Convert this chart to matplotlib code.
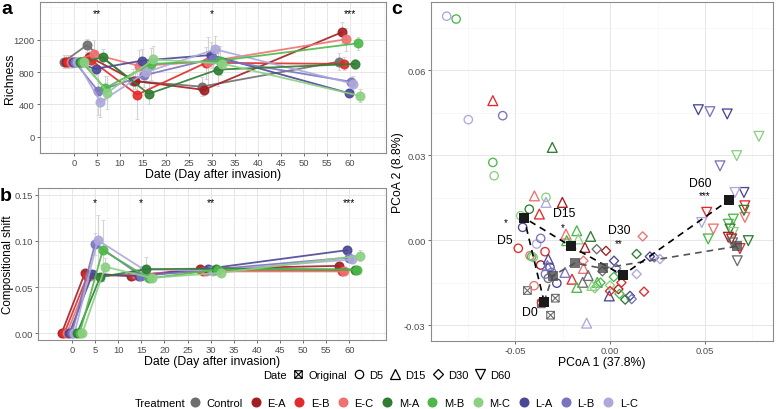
import numpy as np
import matplotlib.pyplot as plt
from matplotlib.lines import Line2D
from matplotlib.path import Path

plt.rcParams['font.family'] = ['Liberation Sans', 'DejaVu Sans']
plt.rcParams['axes.unicode_minus'] = False

W, H = 777, 410

# Treatments in dodge (alphabetical) order and in legend order #
treatments = ['Control', 'E-A', 'E-B', 'E-C', 'L-A', 'L-B', 'L-C', 'M-A', 'M-B', 'M-C']
legend_order = ['Control', 'E-A', 'E-B', 'E-C', 'M-A', 'M-B', 'M-C', 'L-A', 'L-B', 'L-C']
colors = {'Control': '#6E6E6E', 'E-A': '#A31E22', 'E-B': '#E32A2A', 'E-C': '#EE7272',
          'M-A': '#2E7D32', 'M-B': '#4CB849', 'M-C': '#8BD083',
          'L-A': '#4B4794', 'L-B': '#7A74BE', 'L-C': '#ADA9DA'}
days = [0, 5, 15, 30, 60]

# Panel a: richness (mean, sd) #
richness = {'Control': [925, 1130, 690, 620, 930],
            'E-A': [925, 990, 690, 580, 1290],
            'E-B': [925, 945, 520, 915, 900],
            'E-C': [925, 1020, 875, 930, 1205],
            'L-A': [920, 840, 940, 1010, 540],
            'L-B': [920, 565, 760, 965, 680],
            'L-C': [920, 430, 800, 1080, 655],
            'M-A': [920, 980, 530, 830, 900],
            'M-B': [920, 600, 900, 940, 1155],
            'M-C': [920, 545, 955, 905, 505]}
richness_sd = {'Control': [80, 80, 150, 120, 100],
               'E-A': [80, 150, 100, 60, 130],
               'E-B': [80, 60, 300, 200, 80],
               'E-C': [80, 170, 200, 300, 140],
               'L-A': [60, 80, 150, 160, 50],
               'L-B': [60, 300, 150, 150, 60],
               'L-C': [60, 180, 130, 160, 90],
               'M-A': [60, 100, 130, 200, 60],
               'M-B': [60, 150, 200, 180, 80],
               'M-C': [60, 200, 170, 80, 80]}
stars_a = ['', '**', '', '*', '***']

# Panel b: compositional shift (mean, sd) #
shift_trts = ['E-A', 'E-B', 'E-C', 'L-A', 'L-B', 'L-C', 'M-A', 'M-B', 'M-C']
shift = {'E-A': [0, 0.065, 0.062, 0.070, 0.073],
         'E-B': [0, 0.062, 0.063, 0.068, 0.068],
         'E-C': [0, 0.062, 0.064, 0.067, 0.067],
         'L-A': [0, 0.064, 0.062, 0.070, 0.090],
         'L-B': [0, 0.097, 0.062, 0.069, 0.082],
         'L-C': [0, 0.101, 0.069, 0.068, 0.080],
         'M-A': [0, 0.061, 0.0695, 0.070, 0.069],
         'M-B': [0, 0.090, 0.0595, 0.069, 0.069],
         'M-C': [0, 0.072, 0.060, 0.0655, 0.084]}
shift_sd = {'E-A': [0, 0.003, 0.003, 0.003, 0.003],
            'E-B': [0, 0.003, 0.003, 0.003, 0.003],
            'E-C': [0, 0.003, 0.004, 0.003, 0.003],
            'L-A': [0, 0.003, 0.003, 0.003, 0.003],
            'L-B': [0, 0.012, 0.004, 0.003, 0.004],
            'L-C': [0, 0.027, 0.004, 0.003, 0.004],
            'M-A': [0, 0.004, 0.013, 0.003, 0.003],
            'M-B': [0, 0.033, 0.004, 0.003, 0.003],
            'M-C': [0, 0.010, 0.004, 0.003, 0.006]}
stars_b = ['', '*', '*', '**', '***']

# Panel c: PCoA scores #
orig_x = [-0.0435, -0.0288, -0.0313, -0.0362]
orig_y = [-0.0178, -0.0205, -0.0265, -0.0225]

d5_x = [-0.0860, -0.0810, -0.0746, -0.0565, -0.0617, -0.0610, -0.0425, -0.0337, -0.0470, -0.0460,
        -0.0483, -0.0421, -0.0342, -0.0386, -0.0365, -0.0412, -0.0404, -0.0365, -0.0316, -0.0307,
        -0.0280, -0.0400, -0.0325, -0.0360, -0.0340]
d5_y = [0.0790, 0.0780, 0.0425, 0.0439, 0.0274, 0.0227, 0.0109, 0.0151, 0.0086, 0.0045,
        -0.0029, -0.0055, -0.0041, -0.0014, 0.0006, -0.0058, -0.0061, -0.0088, -0.0096, -0.0114,
        -0.0152, -0.0161, -0.0135, -0.0220, -0.0120]
d5_trt = ['L-C', 'M-B', 'L-C', 'L-B', 'M-B', 'M-C', 'M-A', 'M-C', 'M-C', 'L-A',
          'E-B', 'E-C', 'E-B', 'L-C', 'L-B', 'M-B', 'M-C', 'E-A', 'L-A', 'L-B',
          'L-A', 'E-C', 'Control', 'E-B', 'L-B']

d15_x = [-0.0617, -0.0304, -0.0398, -0.0337, -0.0251, -0.0372, -0.0232, -0.0175, -0.0167, -0.0102,
         -0.0228, -0.0205, -0.0132, -0.0140, -0.0200, -0.0144, -0.0175, -0.0067, -0.0095, -0.0325,
         -0.0237, -0.0004, -0.0123, -0.0330, -0.0115]
d15_y = [0.0492, 0.0327, 0.0156, 0.0133, 0.0133, 0.0092, 0.0021, 0.0033, 0.0004, 0.0013,
         -0.0002, -0.0015, -0.0026, -0.0100, -0.0138, -0.0149, -0.0167, -0.0149, -0.0160, -0.0067,
         -0.0114, -0.0197, -0.0293, -0.0090, -0.0125]
d15_trt = ['E-B', 'M-A', 'E-C', 'L-C', 'E-A', 'E-B', 'E-C', 'M-B', 'M-C', 'M-A',
           'M-B', 'M-C', 'E-A', 'E-C', 'E-B', 'Control', 'M-B', 'M-B', 'M-C', 'L-A',
           'L-B', 'L-A', 'L-C', 'L-B', 'Control']

d30_x = [0.0172, -0.0070, -0.0021, 0.0140, -0.0140, 0.0021, 0.0032, 0.0140, 0.0179, 0.0105,
         0.0114, 0.0044, 0.0210, 0.0233, 0.0263, -0.0050, 0.0000, 0.0050, 0.0080, -0.0080,
         0.0020, 0.0060, -0.0040, 0.0000]
d30_y = [0.0013, -0.0032, -0.0038, -0.0049, -0.0073, -0.0073, -0.0100, -0.0120, -0.0182, -0.0197,
         -0.0208, -0.0173, -0.0058, -0.0061, -0.0067, -0.0150, -0.0160, -0.0190, -0.0210, -0.0170,
         -0.0130, -0.0150, -0.0110, -0.0180]
d30_trt = ['E-C', 'Control', 'E-A', 'M-A', 'E-C', 'L-A', 'L-B', 'L-C', 'E-B', 'L-A',
           'L-B', 'E-A', 'L-A', 'L-B', 'L-C', 'M-B', 'M-C', 'M-B', 'M-A', 'M-C',
           'M-B', 'E-B', 'Control', 'E-B']

d60_x = [0.0465, 0.0526, 0.0617, 0.0784, 0.0667, 0.0579, 0.0705, 0.0658, 0.0509, 0.0483,
         0.0544, 0.0517, 0.0710, 0.0710, 0.0705, 0.0649, 0.0623, 0.0632, 0.0649, 0.0623,
         0.0640, 0.0728, 0.0684, 0.0670, 0.0645]
d60_y = [0.0460, 0.0453, 0.0445, 0.0366, 0.0298, 0.0262, 0.0168, 0.0168, 0.0098, 0.0062,
         0.0039, 0.0004, 0.0121, 0.0080, 0.0105, 0.0074, 0.0056, 0.0039, 0.0027, 0.0010,
         0.0004, -0.0002, -0.0030, -0.0073, -0.0010]
d60_trt = ['L-A', 'L-B', 'L-A', 'M-C', 'M-C', 'L-B', 'L-A', 'L-C', 'E-B', 'L-C',
           'E-C', 'M-B', 'E-B', 'E-C', 'M-A', 'M-B', 'M-B', 'M-A', 'M-C', 'E-A',
           'E-A', 'M-A', 'E-B', 'Control', 'Control']

# Centroids: invaded (black) and control (grey) #
cent_labels = ['D0', 'D5', 'D15', 'D30', 'D60']
cent_stars = ['', '*', '*', '**', '***']
cent_x = [-0.0347, -0.0453, -0.0205, 0.0067, 0.0628]
cent_y = [-0.0218, 0.0079, -0.0022, -0.0124, 0.0142]
ctrl_x = [-0.0302, -0.0184, -0.0039, 0.0667]
ctrl_y = [-0.0126, -0.0081, -0.0100, -0.0022]

# Square-cross marker (ggplot shape 7) #
sq_cross = Path([(-1, -1), (1, -1), (1, 1), (-1, 1), (-1, -1), (-1, -1), (1, 1), (-1, 1), (1, -1)],
                [Path.MOVETO, Path.LINETO, Path.LINETO, Path.LINETO, Path.CLOSEPOLY,
                 Path.MOVETO, Path.LINETO, Path.MOVETO, Path.LINETO])


def px_axes(l, t, r, b):
    return fig.add_axes([l / W, 1 - b / H, (r - l) / W, (b - t) / H])


def style(ax):
    for s in ax.spines.values():
        s.set_color('#8C8C8C')
        s.set_linewidth(0.8)
    ax.grid(which='major', color='#E6E6E6', lw=0.7)
    ax.grid(which='minor', color='#F3F3F3', lw=0.4)
    ax.set_axisbelow(True)
    ax.tick_params(which='major', length=2.5, width=0.5, color='#333333',
                   labelsize=6.8, labelcolor='#4D4D4D', pad=1.2)
    ax.tick_params(which='minor', length=0)


fig = plt.figure(figsize=(W / 100, H / 100), dpi=100)

# ---------------- Panel a ---------------- #
ax_a = px_axes(40, 3, 386, 154)
n = len(treatments)
offs = (np.arange(n) - (n - 1) / 2) * 5 / n
for i, t in enumerate(treatments):
    xx = np.array(days) + offs[i]
    ax_a.errorbar(xx, richness[t], yerr=richness_sd[t], fmt='none', ecolor='#D3D3D3',
                  elinewidth=0.8, capsize=1.2, capthick=0.6, zorder=1)
    ax_a.plot(xx, richness[t], '-o', color=colors[t], lw=1.3, ms=6.2, alpha=0.9, zorder=2)
for d, s in zip(days, stars_a):
    ax_a.text(d, 1528, s, ha='center', va='center', fontsize=7.5)
ax_a.set_xlim(-7.4, 67.9)
ax_a.set_ylim(-61, 1665)
ax_a.set_xticks(np.arange(0, 61, 5))
ax_a.set_xticks(np.arange(-5, 67.6, 2.5), minor=True)
ax_a.set_yticks([0, 400, 800, 1200])
ax_a.set_yticks(np.arange(-200, 1700, 200), minor=True)
style(ax_a)
ax_a.set_xlabel('Date (Day after invasion)', fontsize=8.8, labelpad=0.5)
ax_a.set_ylabel('Richness', fontsize=8.8)
ax_a.yaxis.set_label_coords((16 - 40) / 346, 0.5)

# ---------------- Panel b ---------------- #
ax_b = px_axes(37.7, 189, 386, 340.7)
n = len(shift_trts)
offs = (np.arange(n) - (n - 1) / 2) * 5 / n
for i, t in enumerate(shift_trts):
    xx = np.array(days) + offs[i]
    ax_b.errorbar(xx, shift[t], yerr=shift_sd[t], fmt='none', ecolor='#D3D3D3',
                  elinewidth=0.8, capsize=1.2, capthick=0.6, zorder=1)
    ax_b.plot(xx, shift[t], '-o', color=colors[t], lw=1.3, ms=6.2, alpha=0.9, zorder=2)
for d, s in zip(days, stars_b):
    ax_b.text(d, 0.1424, s, ha='center', va='center', fontsize=7.5)
ax_b.set_xlim(-7.4, 67.9)
ax_b.set_ylim(-0.0069, 0.1573)
ax_b.set_xticks(np.arange(0, 61, 5))
ax_b.set_xticks(np.arange(-5, 67.6, 2.5), minor=True)
ax_b.set_yticks([0, 0.05, 0.10, 0.15])
ax_b.set_yticklabels(['0.00', '0.05', '0.10', '0.15'])
ax_b.set_yticks([0.025, 0.075, 0.125], minor=True)
style(ax_b)
ax_b.set_xlabel('Date (Day after invasion)', fontsize=8.8, labelpad=0.5)
ax_b.set_ylabel('Compositional shift', fontsize=8.4)
ax_b.yaxis.set_label_coords((13.6 - 37.7) / 348.3, 0.5)

# ---------------- Panel c ---------------- #
ax_c = px_axes(430.7, 3.3, 773, 341.7)
ax_c.scatter(orig_x, orig_y, marker=sq_cross, s=30, facecolors='none',
             edgecolors=colors['Control'], linewidths=0.8, zorder=2)
groups = [(d5_x, d5_y, d5_trt, 'o', 36), (d15_x, d15_y, d15_trt, '^', 50),
          (d30_x, d30_y, d30_trt, 'D', 22), (d60_x, d60_y, d60_trt, 'v', 50)]
for gx, gy, gt, mk, sz in groups:
    ax_c.scatter(gx, gy, marker=mk, s=sz, facecolors='none',
                 edgecolors=[colors[t] for t in gt], linewidths=0.95, zorder=2)
ax_c.plot([cent_x[0]] + ctrl_x, [cent_y[0]] + ctrl_y, ls=(0, (4, 3)), color='#555555',
          lw=1.2, zorder=3)
ax_c.plot(cent_x, cent_y, ls=(0, (4, 3)), color='black', lw=1.2, zorder=3)
ax_c.scatter(ctrl_x, ctrl_y, marker='s', s=55, color='#4D4D4D', alpha=0.8, lw=0, zorder=4)
ax_c.scatter(cent_x, cent_y, marker='s', s=55, color='#1A1A1A', lw=0, zorder=5)
lab_x = [-0.0421, -0.0553, -0.0241, 0.0047, 0.0477]
lab_y = [-0.0254, 0.0002, 0.0094, 0.0036, 0.0202]
star_x = [0, -0.0547, -0.0249, 0.0047, 0.0500]
star_y = [0, 0.0064, 0.0046, -0.0010, 0.0160]
for i in range(5):
    ax_c.text(lab_x[i], lab_y[i], cent_labels[i], ha='center', va='center', fontsize=8.8, zorder=6)
    if cent_stars[i]:
        ax_c.text(star_x[i], star_y[i], cent_stars[i], ha='center', va='center', fontsize=7, zorder=6)
ax_c.set_xlim(-0.0944, 0.0858)
ax_c.set_ylim(-0.0355, 0.0839)
ax_c.set_xticks([-0.05, 0, 0.05])
ax_c.set_xticklabels(['-0.05', '0.00', '0.05'])
ax_c.set_xticks([-0.075, -0.025, 0.025, 0.075], minor=True)
ax_c.set_yticks([-0.03, 0, 0.03, 0.06])
ax_c.set_yticklabels(['-0.03', '0.00', '0.03', '0.06'])
ax_c.set_yticks([-0.015, 0.015, 0.045, 0.075], minor=True)
style(ax_c)
ax_c.set_xlabel('PCoA 1 (37.8%)', fontsize=8.8, labelpad=0.5)
ax_c.set_ylabel('PCoA 2 (8.8%)', fontsize=8.8)
ax_c.yaxis.set_label_coords((404 - 430.7) / 342.3, 0.5)

# Panel letters #
for lx, ly, lt in [(7, 10, 'a'), (6, 197, 'b'), (397, 10, 'c')]:
    fig.text(lx / W, 1 - ly / H, lt, fontsize=14, fontweight='bold', ha='center', va='center')

# Legends #
fig.text(263 / W, 1 - 376 / H, 'Date', ha='left', va='center', fontsize=8)
date_handles = [Line2D([], [], ls='none', marker=sq_cross, ms=5.4, mfc='none', mec='black', mew=0.8),
                Line2D([], [], ls='none', marker='o', ms=6, mfc='none', mec='black', mew=0.9),
                Line2D([], [], ls='none', marker='^', ms=7, mfc='none', mec='black', mew=0.9),
                Line2D([], [], ls='none', marker='D', ms=4.8, mfc='none', mec='black', mew=0.9),
                Line2D([], [], ls='none', marker='v', ms=7, mfc='none', mec='black', mew=0.9)]
fig.legend(date_handles, ['Original', 'D5', 'D15', 'D30', 'D60'], loc='center left',
           bbox_to_anchor=(292.5 / W, 1 - 376 / H), ncol=5, frameon=False, fontsize=8,
           handlelength=1.0, handletextpad=0.4, columnspacing=0.6, borderaxespad=0, borderpad=0)

fig.text(135 / W, 1 - 404 / H, 'Treatment', ha='left', va='center', fontsize=8)
trt_handles = [Line2D([], [], ls='none', marker='o', ms=6.2, color=colors[t]) for t in legend_order]
fig.legend(trt_handles, legend_order, loc='center left',
           bbox_to_anchor=(189 / W, 1 - 404 / H), ncol=10, frameon=False, fontsize=8,
           handlelength=1.0, handletextpad=0.55, columnspacing=0.7, borderaxespad=0, borderpad=0)

fig.savefig('out.png', dpi=100)
